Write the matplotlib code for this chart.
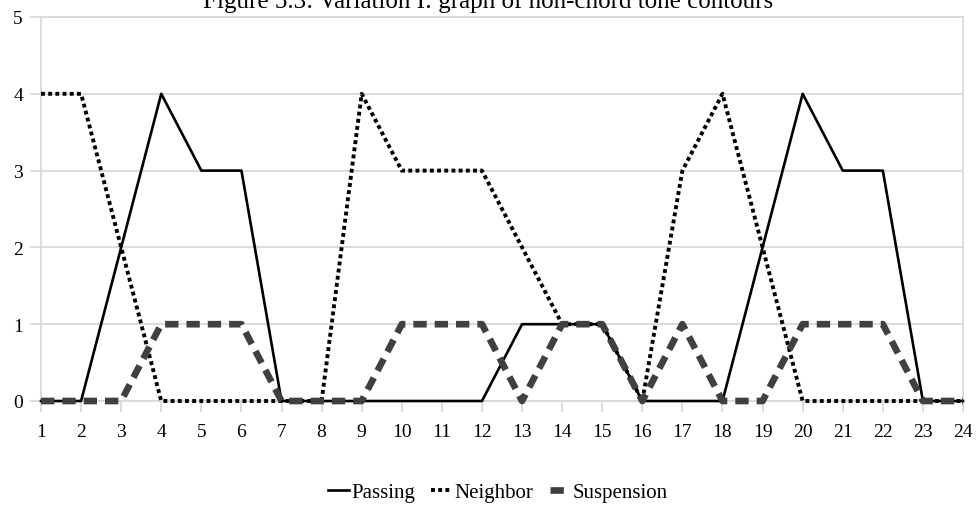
import matplotlib.pyplot as plt
import numpy as np

plt.rcParams['font.family'] = ['Liberation Serif', 'DejaVu Serif']

# beat positions and contour values per non-chord tone type
beats = list(range(1, 25))
passing = [0, 0, 2, 4, 3, 3, 0, 0, 0, 0, 0, 0, 1, 1, 1, 0, 0, 0, 2, 4, 3, 3, 0, 0]
neighbor = [4, 4, 2, 0, 0, 0, 0, 0, 4, 3, 3, 3, 2, 1, 1, 0, 3, 4, 2, 0, 0, 0, 0, 0]
suspension = [0, 0, 0, 1, 1, 1, 0, 0, 0, 1, 1, 1, 0, 1, 1, 0, 1, 0, 0, 1, 1, 1, 0, 0]
title = "Figure 5.3: Variation I: graph of non-chord tone contours"

fig = plt.figure(figsize=(9.76, 5.06), dpi=100)
ax = fig.add_axes([41/976, 1 - 402/506, (963 - 41)/976, (402 - 18)/506])

grid_c = '#d9d9d9'
# lines sit above the spines so the zero values stay fully visible
ax.plot(beats, passing, color='black', lw=1.9, label='Passing',
        clip_on=False, zorder=3)
ax.plot(beats, neighbor, color='black', lw=2.8, dashes=(1, 0.85),
        dash_capstyle='butt', label='Neighbor', clip_on=False, zorder=4)
ax.plot(beats, suspension, color='#404040', lw=4.8, dashes=(2.0, 1.2),
        dash_capstyle='butt', label='Suspension', clip_on=False, zorder=5)

ax.set_xlim(1, 24)
ax.set_ylim(0, 5)
ax.set_xticks(beats)
ax.set_yticks(np.arange(0, 6))
ax.yaxis.grid(True, color=grid_c, lw=1.3)
ax.set_axisbelow(True)
for s in ax.spines.values():
    s.set_color(grid_c)
    s.set_linewidth(1.3)
ax.tick_params(axis='both', colors=grid_c, labelcolor='black', labelsize=14,
               length=8, width=1.3)
ax.tick_params(axis='x', pad=8)
ax.tick_params(axis='y', pad=5)

fig.text(0.5, 1 - 8/506, title, ha='center', va='baseline', fontsize=18)

fig.legend(loc='center', bbox_to_anchor=(498/976, 1 - 493/506), ncol=3,
           frameon=False, fontsize=15, handlelength=1.0, handletextpad=0.1,
           columnspacing=0.8)

fig.savefig('out.png', dpi=100)
